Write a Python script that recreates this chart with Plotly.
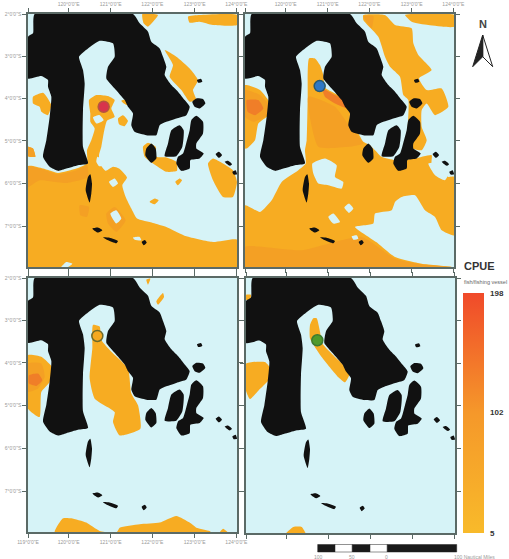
import plotly.graph_objects as go

W, H = 509, 559

# ---- map outlines, in map grid units (tick spacing about 126 units = 1 degree) ----
LAND_MAIN = [(105,42),(400,42),(420,70),(445,95),(455,125),(480,145),(490,170),(500,200),(495,225),(515,255),(535,275),(555,300),(570,320),(560,345),(530,355),(500,365),(480,375),(470,405),(440,405),(405,395),(395,375),(400,340),(385,320),(375,300),(345,265),(320,235),(325,200),(345,170),(340,130),(300,122),(265,145),(238,170),(250,210),(255,250),(250,330),(250,440),(265,490),(235,495),(200,505),(175,512),(150,500),(130,470),(140,420),(150,350),(155,290),(145,260),(145,240),(125,228),(85,235),(85,110),(100,100)]
LAND_ISLANDS = [
    [(578,305),(590,295),(610,297),(617,310),(600,325),(585,320)],
    [(515,390),(540,375),(552,390),(548,440),(530,468),(495,468),(505,430)],
    [(575,360),(590,347),(610,365),(610,400),(590,430),(590,445),(612,460),(600,475),(572,480),(570,505),(545,512),(530,490),(535,470),(550,460),(562,420),(570,390)],
    [(440,445),(455,430),(468,445),(470,475),(455,488),(437,465)],
    [(648,462),(658,455),(667,465),(658,473)],
    [(675,485),(685,482),(697,492),(690,497)],
    [(698,515),(708,510),(712,522),(702,523)],
    [(265,530),(272,522),(277,550),(275,580),(270,607),(258,570)],
    [(278,685),(295,682),(308,690),(295,697)],
    [(310,711),(330,712),(355,722),(350,729),(325,720)],
    [(426,725),(436,719),(441,727),(432,735)],
    [(592,240),(604,236),(608,245),(596,248)],
]

P1_BASE = [
    [(85,498),(130,505),(175,518),(230,505),(262,490),(262,450),(275,420),(285,385),(272,365),(272,340),(268,300),(290,285),(325,288),(345,300),(335,325),(345,350),(322,362),(312,400),(305,440),(298,465),(300,490),(318,512),(340,500),(358,505),(382,532),(368,555),(378,590),(395,625),(412,655),(460,668),(500,680),(560,708),(640,725),(712,718),(712,800),(85,800)],
    [(355,355),(370,345),(385,362),(375,378),(358,372)],
    [(365,302),(385,297),(405,310),(395,320),(375,312)],
    [(100,290),(130,278),(155,315),(145,345),(125,335),(120,320),(100,310)],
    [(85,440),(100,445),(107,470),(85,468)],
    [(430,440),(445,428),(468,440),(470,470),(500,472),(530,485),(532,512),(500,515),(460,490),(435,470)],
    [(428,42),(475,45),(445,80),(432,70)],
    [(565,50),(600,45),(712,45),(712,75),(640,75),(600,65),(570,68)],
    [(495,150),(530,170),(570,205),(595,240),(580,270),(590,300),(570,305),(545,270),(510,230),(520,195)],
    [(625,490),(640,475),(670,490),(700,510),(712,545),(700,590),(670,590),(640,540)],
    [(527,545),(540,535),(547,540),(535,555)],
    [(450,605),(465,595),(477,600),(465,612)],
]
P1_DARK = [
    [(85,498),(130,508),(175,522),(230,510),(262,495),(265,530),(200,548),(120,540),(85,560)],
    [(320,640),(345,620),(378,660),(350,695),(325,670)],
    [(240,615),(268,620),(262,650),(242,645)],
    [(85,440),(100,445),(107,470),(85,468)],
]
P1_HOLES = [
    [(293,470),(305,478),(312,495),(298,498),(290,485)],
    [(328,545),(345,535),(355,550),(340,560)],
    [(332,640),(350,630),(365,655),(350,670)],
    [(185,800),(200,785),(218,790),(205,800)],
    [(400,712),(420,710),(425,720),(405,718)],
    [(280,352),(300,345),(312,360),(290,370)],
]

P2_BASE = [
    [(222,175),(240,175),(255,195),(265,225),(270,262),(300,280),(335,300),(345,330),(345,372),(370,400),(385,425),(405,435),(420,450),(440,470),(480,480),(540,475),(590,465),(590,490),(640,530),(658,530),(658,705),(620,690),(600,650),(570,630),(540,585),(500,590),(480,605),(470,630),(420,640),(415,670),(360,680),(385,700),(430,730),(480,770),(560,790),(650,800),(30,800),(30,615),(75,635),(110,600),(140,545),(190,510),(212,490),(210,450),(215,420),(218,300)],
    [(385,45),(450,45),(480,75),(530,85),(535,130),(550,165),(590,210),(552,235),(575,270),(620,265),(640,320),(600,345),(575,310),(560,330),(560,380),(575,420),(560,450),(520,440),(520,300),(505,285),(495,230),(465,200),(450,170),(430,110),(385,60)],
    [(510,45),(658,45),(658,80),(580,75),(530,65)],
    [(30,255),(75,270),(105,310),(100,345),(70,370),(60,420),(35,445),(30,445)],
]
P2_DARK = [
    [(220,290),(300,320),(345,380),(385,430),(340,440),(250,440)],
    [(30,740),(200,750),(380,710),(480,775),(560,792),(650,800),(30,800)],
    [(30,270),(75,285),(105,320),(90,350),(55,365),(30,350)],
    [(385,48),(415,48),(410,85)],
]
P2_HOT = [
    [(262,265),(300,285),(335,305),(340,325),(300,310),(270,290)],
    [(35,300),(70,300),(85,325),(60,345),(38,335)],
]
P2_HOLES = [
    [(232,490),(270,475),(305,495),(300,530),(325,545),(320,565),(280,555),(250,550),(235,520)],
    [(328,622),(342,610),(355,625),(342,638)],
    [(280,650),(295,640),(315,665),(295,670)],
    [(350,708),(365,705),(370,715),(355,718)],
    [(580,490),(600,488),(640,520),(630,540),(600,525)],
]

P3_BASE = [
    [(280,180),(300,185),(305,225),(335,260),(385,310),(395,385),(415,420),(422,490),(360,510),(340,470),(345,440),(285,400),(270,340),(278,250)],
    [(85,270),(125,275),(160,310),(150,350),(125,380),(120,455),(85,430)],
    [(470,110),(490,85),(493,97),(475,120)],
    [(440,45),(452,42),(445,60)],
    [(165,800),(190,757),(215,757),(260,770),(300,795),(350,800),(360,785),(420,775),(480,770),(530,750),(570,770),(590,785),(630,795),(635,800)],
    [(660,800),(670,788),(685,800)],
]
P3_DARK = [[(85,295),(125,295),(135,335),(115,370),(85,380)]]
P3_HOT = [[(88,330),(115,325),(128,345),(110,362),(88,355)]]

P4_BASE = [
    [(235,205),(245,205),(255,245),(262,280),(300,320),(345,365),(330,395),(310,380),(260,320),(225,265),(225,225)],
    [(33,340),(90,335),(110,360),(100,390),(70,420),(45,445),(33,420)],
    [(150,848),(175,825),(200,825),(213,848)],
    [(33,135),(48,135),(45,150),(33,150)],
]

# offsets of the outlines above into map grid units, one per panel
PANEL_OFFSETS = [(0, 0), (55, 0), (0, 2), (52, -43)]
SITE_X = [312, 309, 293, 299]
SITE_Y = [320, 258, 215, 227]
SITE_FILL = ["#D8344C", "#2F78C4", "#F5A820", "#4F9A2A"]
SITE_EDGE = ["#B5563E", "#2A5A6E", "#6E6A2A", "#3D7A30"]

LON_TICKS = [85, 207, 333, 458, 585, 710]
LAT_TICKS = [42, 168, 295, 422, 550, 678]
LON_LABELS = ['119°0\'0"E', '120°0\'0"E', '121°0\'0"E', '122°0\'0"E', '123°0\'0"E', '124°0\'0"E']
LAT_LABELS = ['2°0\'0"S', '3°0\'0"S', '4°0\'0"S', '5°0\'0"S', '6°0\'0"S', '7°0\'0"S']

CPUE_TICKS = [5, 102, 198]

WATER = "#D6F3F7"
BASE = "#F7AC22"
DARK = "#F4A024"
HOT = "#F07E28"
LAND = "#111111"
FRAME = "#5B6A66"

PANELS_PX = [(28, 237, 14, 267), (245, 454, 14, 267), (28, 237, 278, 532), (246, 455, 278, 533)]


def path_xy(polys, dx=0, dy=0):
    xs, ys = [], []
    for poly in polys:
        for px, py in poly:
            xs.append(px + dx)
            ys.append(py + dy)
        xs.append(poly[0][0] + dx)
        ys.append(poly[0][1] + dy)
        xs.append(None)
        ys.append(None)
    return xs, ys


def fx(px):
    return px / W


def fy(py):
    return 1 - py / H


SMOOTH = dict(width=0, shape="spline", smoothing=0.5)

fig = go.Figure()
layers = [
    (P1_BASE, P1_DARK, [], P1_HOLES),
    (P2_BASE, P2_DARK, P2_HOT, P2_HOLES),
    (P3_BASE, P3_DARK, P3_HOT, []),
    (P4_BASE, [], [], []),
]
for i, (base, dark, hot, holes) in enumerate(layers):
    ax = "" if i == 0 else str(i + 1)
    dx, dy = PANEL_OFFSETS[i]
    for polys, col in ((base, BASE), (dark, DARK), (hot, HOT), (holes, WATER)):
        if not polys:
            continue
        xs, ys = path_xy(polys, dx, dy)
        fig.add_trace(go.Scatter(x=xs, y=ys, xaxis="x" + ax, yaxis="y" + ax, mode="lines", line=SMOOTH,
                                 fill="toself", fillcolor=col, hoverinfo="skip", showlegend=False))
    xs, ys = path_xy([LAND_MAIN] + LAND_ISLANDS)
    fig.add_trace(go.Scatter(x=xs, y=ys, xaxis="x" + ax, yaxis="y" + ax, mode="lines", line=SMOOTH,
                             fill="toself", fillcolor=LAND, hoverinfo="skip", showlegend=False))
    fig.add_trace(go.Scatter(x=[SITE_X[i]], y=[SITE_Y[i]], xaxis="x" + ax, yaxis="y" + ax, mode="markers",
                             marker=dict(size=11, color=SITE_FILL[i], line=dict(color=SITE_EDGE[i], width=1.5)),
                             hoverinfo="skip", showlegend=False))

# colour scale
fig.add_trace(go.Scatter(
    x=[None, None, None], y=[None, None, None], mode="markers", hoverinfo="skip", showlegend=False,
    marker=dict(color=CPUE_TICKS, cmin=5, cmax=198,
                colorscale=[[0, "#F8BA2A"], [0.5, "#F5982A"], [1, "#F04A2A"]],
                showscale=True,
                colorbar=dict(x=fx(463), xanchor="left", xpad=0, y=fy(533), yanchor="bottom", ypad=0,
                              len=240, lenmode="pixels", thickness=21, thicknessmode="pixels",
                              outlinewidth=0, ticks="outside", ticklen=5, tickcolor="rgba(0,0,0,0)",
                              tickvals=CPUE_TICKS, ticktext=["<b>5</b>", "<b>102</b>", "<b>198</b>"],
                              tickfont=dict(family="Liberation Sans", size=8, color="#333333")))))

layout = dict(
    width=W, height=H, margin=dict(l=0, r=0, t=0, b=0, autoexpand=False),
    paper_bgcolor="white", plot_bgcolor=WATER, showlegend=False,
    font=dict(family="Liberation Sans"),
)
tickfont = dict(family="Liberation Sans", size=5, color="#9A9A9A")
xside = ["top", "top", "bottom", "bottom"]
xlab = [True, True, True, False]
ylab = [True, False, True, False]
for i, (x0, x1, y0, y1) in enumerate(PANELS_PX):
    ax = "" if i == 0 else str(i + 1)
    common = dict(showgrid=False, zeroline=False, showline=True, linecolor=FRAME, linewidth=1.5,
                  mirror="ticks", ticks="outside", ticklen=4, tickcolor=FRAME, tickwidth=1, tickfont=tickfont)
    # the two upper panels carry no label at the left-hand corner tick
    xticktext = list(LON_LABELS)
    if xside[i] == "top":
        xticktext[0] = ""
    layout["xaxis" + ax] = dict(domain=[fx(x0), fx(x1)], range=[85, 712], anchor="y" + ax, side=xside[i],
                                tickvals=LON_TICKS, ticktext=xticktext, showticklabels=xlab[i], **common)
    layout["yaxis" + ax] = dict(domain=[fy(y1), fy(y0)], range=[800, 42], anchor="x" + ax,
                                tickvals=LAT_TICKS, ticktext=LAT_LABELS, showticklabels=ylab[i], **common)

shapes = []
# north arrow
shapes.append(dict(type="path", xref="paper", yref="paper", line=dict(color="#222222", width=1), fillcolor="white",
                   path=f"M{fx(482.7)},{fy(35)} L{fx(492.7)},{fy(66.7)} L{fx(482.7)},{fy(56.7)} Z"))
shapes.append(dict(type="path", xref="paper", yref="paper", line=dict(color="#222222", width=1), fillcolor="#222222",
                   path=f"M{fx(482.7)},{fy(35)} L{fx(472.7)},{fy(66.7)} L{fx(482.7)},{fy(56.7)} Z"))
# scale bar
SCALE_EDGES = [317.7, 335, 352.3, 370, 387.3, 456.7]
for j in range(5):
    shapes.append(dict(type="rect", xref="paper", yref="paper", x0=fx(SCALE_EDGES[j]), x1=fx(SCALE_EDGES[j + 1]),
                       y0=fy(552), y1=fy(544.5), line=dict(color="#222222", width=0.5),
                       fillcolor="#1A1A1A" if j % 2 == 0 else "white"))
layout["shapes"] = shapes

def note(text, px, py, size, color, bold=False, anchor="left"):
    return dict(text=f"<b>{text}</b>" if bold else text, x=fx(px), y=fy(py), xref="paper", yref="paper",
                xanchor=anchor, yanchor="middle", showarrow=False, font=dict(size=size, color=color), align="left")

layout["annotations"] = [
    note("N", 482.5, 24, 11, "#444444", True, "center"),
    note("CPUE", 462, 266, 11, "#333333", True),
    note("fish/fishing vessel", 462, 282, 5.5, "#666666"),
    note("100", 318, 557, 5, "#9A9A9A", False, "center"),
    note("50", 352, 557, 5, "#9A9A9A", False, "center"),
    note("0", 386, 557, 5, "#9A9A9A", False, "center"),
    note("100 Nautical Miles", 452, 557, 5, "#9A9A9A"),
]
fig.update_layout(**layout)
fig.write_html("out.html", config=dict(displayModeBar=False),
               post_script="document.body.style.margin='0';document.body.style.overflow='hidden';")
